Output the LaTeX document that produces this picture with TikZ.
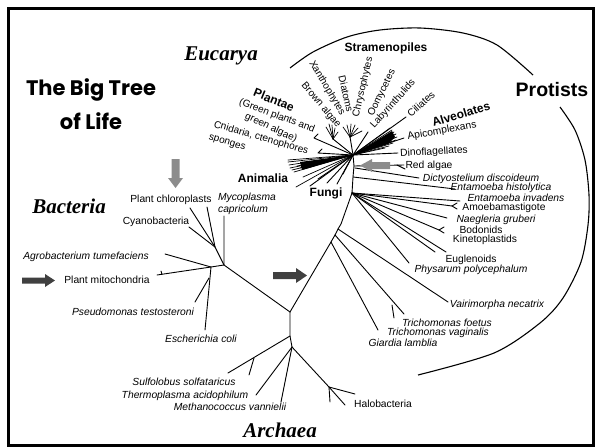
\documentclass[tikz,border=0pt]{standalone}
\usepackage{fontspec}
\setmainfont{Liberation Sans}
\newfontfamily\domfont{Liberation Serif}
\newfontfamily\ttlfont{Poppins}
\begin{document}
\begin{tikzpicture}[x=1pt,y=-1pt,
  br/.style={line width=0.9pt,line cap=round,line join=round},
  sp/.style={inner sep=0pt,font=\fontsize{10.3}{11}\selectfont\itshape},
  nm/.style={inner sep=0pt,font=\fontsize{10.3}{11}\selectfont},
  rl/.style={inner sep=0pt,font=\fontsize{10}{11}\selectfont},
  grp/.style={inner sep=0pt,font=\fontsize{12}{13}\selectfont\bfseries},
  dom/.style={inner sep=0pt,font=\domfont\fontsize{21}{24}\selectfont\bfseries\itshape},
  lgarrow/.style={fill=black!45},
  dkarrow/.style={fill=black!75},
  arcline/.style={line width=1.1pt}]
\useasboundingbox (0,0) rectangle (596,447);
\fill[white] (0,0) rectangle (596,447);
\draw[line width=3pt] (8.5,8.5) rectangle (593,445);

% ---- protist arc
\draw[arcline] plot[smooth] coordinates {(290,68) (313,52) (347,37) (380,30) (420,28) (463,33) (497,45) (533,75)};
\draw[arcline] plot[smooth] coordinates {(560,107) (575,130) (585,160) (589,195) (588,225) (581,262) (563,298) (540,323) (494,353) (418,375)};

% ---- main coordinates
\coordinate (C) at (353,155);
\coordinate (Tr1) at (354,166);
\coordinate (Tr2) at (353,177);
\coordinate (F) at (352,193);
\coordinate (K) at (341,224);
\coordinate (V) at (338,229);
\coordinate (T) at (335,235);
\coordinate (G) at (331,242);
\coordinate (J) at (290,312);
\draw[br] (C) -- (Tr1) -- (Tr2) -- (F) -- (K) -- (V) -- (T) -- (G) -- (J);

% bacteria
\coordinate (B) at (224,265);
\coordinate (Bc) at (215,247);
\coordinate (Bpc1) at (190,208);
\coordinate (Bpc2) at (207,207);
\coordinate (Bcy) at (189,227);
\coordinate (Bmy) at (224,216);
\coordinate (B2) at (211,267);
\coordinate (Bag) at (165,254);
\coordinate (Bmi) at (157,275);
\coordinate (Bmt) at (161,271);
\coordinate (Bps0) at (209,278);
\coordinate (Bps) at (195,302);
\coordinate (Bec) at (205,330);
\draw[br] (J) -- (B) -- (Bmy);
\draw[br] (B) -- (Bc) -- (Bpc1);
\draw[br] (Bc) -- (Bpc2);
\draw[br] (Bc) -- (Bcy);
\draw[br] (B) -- (B2) -- (Bag);
\draw[br] (B2) -- (Bmi);
\draw[br] (Bmi) ++(5,-0.5) coordinate (Bmf) -- (Bmt);
\draw[br] (B2) -- (Bec);
\draw[br] (Bps0) -- (Bps);

% archaea
\coordinate (A1) at (290,336);
\coordinate (A2) at (292,347);
\coordinate (Asu) at (228,373);
\coordinate (Asf) at (254,358);
\coordinate (Asf2) at (249,375);
\coordinate (Ath) at (256,395);
\coordinate (Ame) at (281,402);
\coordinate (Ah) at (329,387);
\coordinate (Ah1) at (355,394);
\coordinate (Ah2) at (345,405);
\coordinate (Ah3) at (330,402);
\draw[br] (J) -- (A1) -- (A2);
\draw[br] (A1) -- (Asu);
\draw[br] (Asf) -- (Asf2);
\draw[br] (A2) -- (Ath);
\draw[br] (A2) -- (Ame);
\draw[br] (A2) -- (Ah) -- (Ah1);
\draw[br] (Ah) -- (Ah2);
\draw[br] (Ah) -- (Ah3);

% eucarya right side leaves
\coordinate (Ldic) at (419,178);
\coordinate (Lhis) at (455,189);
\coordinate (Linv) at (460,201);
\coordinate (Lamo) at (452,206);
\coordinate (Lnae) at (447,218);
\coordinate (Lbod) at (439,230);
\coordinate (Lkin) at (435,252);
\coordinate (Leug) at (446,252);
\coordinate (Lphy) at (409,263);
\coordinate (Lvai) at (448,302);
\coordinate (Ltri) at (404,314);
\coordinate (Ltf1) at (392,305);
\coordinate (Ltf2) at (394,318);
\coordinate (Lgia) at (378,330);
\draw[br] (Tr1) ++(1,2) coordinate (Tr1b) -- (Ldic);
\draw[br] (Tr2) -- (Lhis);
\draw[br] (F) -- (Linv);
\draw[br] (F) -- (Lamo) -- ++(5,-3);
\draw[br] (Lamo) -- ++(5,3);
\draw[br] (F) -- (Lnae);
\draw[br] (F) -- (Lbod) -- ++(5,-3);
\draw[br] (Lbod) -- ++(5,3);
\draw[br] (F) -- (Lkin);
\draw[br] (F) -- (Leug);
\draw[br] (F) -- (Lphy);
\draw[br] (V) -- (Lvai);
\draw[br] (T) -- (Ltri);
\draw[br] (Ltf1) -- (Ltf2);
\draw[br] (G) -- (Lgia);

% red algae
\coordinate (Lred) at (404,165);
\draw[br] (Tr1) -- (Lred);
\draw[br] (Lred) ++(-7,0) coordinate (Lredf) -- ++(8,4);

% alveolates / ciliates
\coordinate (Lcil) at (406,117);
\coordinate (Lapi) at (404,138);
\coordinate (Ldin) at (398,153);
\draw[br] (C) -- (Lcil);
\draw[br] (C) -- (Lapi);
\draw[br] (C) -- (Ldin);
\foreach \x/\y in {390/128,392/130,394/132,396/134,397/137,396/140,393/143,389/146,385/148}
  \draw[br,line width=0.7pt] (C) -- (\x,\y);
\fill (C) -- (392,131) -- (395,137) -- (388,144) -- cycle;

% stramenopiles fans
\coordinate (S) at (350,137);
\coordinate (P) at (333,139);
\draw[br] (C) -- (S);
\draw[br] (C) -- (P);
\draw[br] (C) -- (368,132);
\foreach \x/\y in {343/127,347/125,351/124,355/125,358/128,362/131}
  \draw[br,line width=0.7pt] (S) -- (\x,\y);
\foreach \x/\y in {326/127,329/124,332/125,335/128,338/132}
  \draw[br,line width=0.7pt] (P) -- (\x,\y);

% plantae, cnidaria
\coordinate (Lpla) at (314,138);
\coordinate (Lcni) at (318,153);
\draw[br] (C) -- (Lpla) -- ++(4,-4);
\draw[br] (C) -- (Lcni) -- ++(4,-4);

% animalia wedge
\foreach \x/\y in {288/160,288/162,289/165,290/168,292/170,294/172,297/166,300/168,303/177,296/187}
  \draw[br,line width=0.7pt] (C) -- (\x,\y);
\fill (C) -- (300,162) -- (302,170) -- cycle;

% fungi
\foreach \x/\y in {318/179,327/183,337/184,343/174,310/186}
  \draw[br] (C) -- (\x,\y);

% ---- arrows
\fill[lgarrow] (171.5,159) -- (179.5,159) -- (179.5,178) -- (183,178) -- (175.5,188) -- (168,178) -- (171.5,178) -- cycle;
\fill[lgarrow] (390,162) -- (372,162) -- (372,159) -- (360,165.5) -- (372,172) -- (372,169) -- (390,169) -- cycle;
\fill[dkarrow] (273,272) -- (296,272) -- (296,268) -- (307,275.5) -- (296,283) -- (296,279) -- (273,279) -- cycle;
\fill[dkarrow] (22,277.5) -- (45,277.5) -- (45,274) -- (55,280.5) -- (45,287) -- (45,283.5) -- (22,283.5) -- cycle;

% ---- titles
\node[font=\ttlfont\bfseries\fontsize{21}{34}\selectfont,align=center,inner sep=0pt] (title) at (91,104) {The Big Tree\\of Life};
\node[dom] (euc) at (221,56) {Eucarya};
\node[dom] (bac) at (69,206) {Bacteria};
\node[dom] (arc) at (280,430) {Archaea};
\node[inner sep=0pt,font=\fontsize{19.5}{22}\selectfont\bfseries] (pro) at (552,90) {Protists};

% ---- group labels
\node[grp] (stra) at (386,48) {Stramenopiles};
\node[grp,rotate=17] (alv) at (461,114) {Alveolates};
\node[grp,rotate=-22] (plan) at (274,100) {Plantae};
\node[grp] (anim) at (263,178) {Animalia};
\node[grp] (fung) at (326,193) {Fungi};

% rotated eucarya labels
\node[rl,rotate=-50] at (321,105) {Brown algae};
\node[rl,rotate=-59] at (327,88) {Xanthophytes};
\node[rl,rotate=-77] at (346,94) {Diatoms};
\node[rl,rotate=77] at (363,87) {Chrysophytes};
\node[rl,rotate=64] at (382,93) {Oomycetes};
\node[rl,rotate=48] at (393,104) {Labyrinthulids};
\node[rl,rotate=42] at (421,104) {Ciliates};
\node[nm,rotate=10.5] at (442,131) {Apicomplexans};
\node[nm,rotate=3] at (434,152) {Dinoflagellates};
\node[nm] at (429,166) {Red algae};
\node[rl,rotate=-21] at (277,116) {(Green plants and};
\node[rl,rotate=-25] at (271,128) {green algae)};
\node[rl,rotate=-16] at (261,138) {Cnidaria, ctenophores};
\node[rl,rotate=-17] at (227,143) {sponges};

% right species
\node[sp] at (481,179) {Dictyostelium discoideum};
\node[sp] at (501,188) {Entamoeba histolytica};
\node[sp] at (516,198) {Entamoeba invadens};
\node[nm] at (504,208) {Amoebamastigote};
\node[sp] at (496,220) {Naegleria gruberi};
\node[nm] at (481,230) {Bodonids};
\node[nm] at (485,240) {Kinetoplastids};
\node[nm] at (471,260) {Euglenoids};
\node[sp] at (471,270) {Physarum polycephalum};
\node[sp] at (497,305) {Vairimorpha necatrix};
\node[sp] at (447,323) {Trichomonas foetus};
\node[sp] at (438,333) {Trichomonas vaginalis};
\node[sp] at (403,343) {Giardia lamblia};

% bacteria labels
\node[nm] at (171,200) {Plant chloroplasts};
\node[sp] at (247,198) {Mycoplasma};
\node[sp] at (243,210) {capricolum};
\node[nm] at (156,222) {Cyanobacteria};
\node[sp] at (86,257) {Agrobacterium tumefaciens};
\node[nm] at (107,280) {Plant mitochondria};
\node[sp] at (133,312) {Pseudomonas testosteroni};
\node[sp] at (201,339) {Escherichia coli};

% archaea labels
\node[sp] at (184,382) {Sulfolobus solfataricus};
\node[sp] at (185,396) {Thermoplasma acidophilum};
\node[sp] at (230,407) {Methanococcus vannielii};
\node[nm] at (383,404) {Halobacteria};
\end{tikzpicture}
\end{document}
